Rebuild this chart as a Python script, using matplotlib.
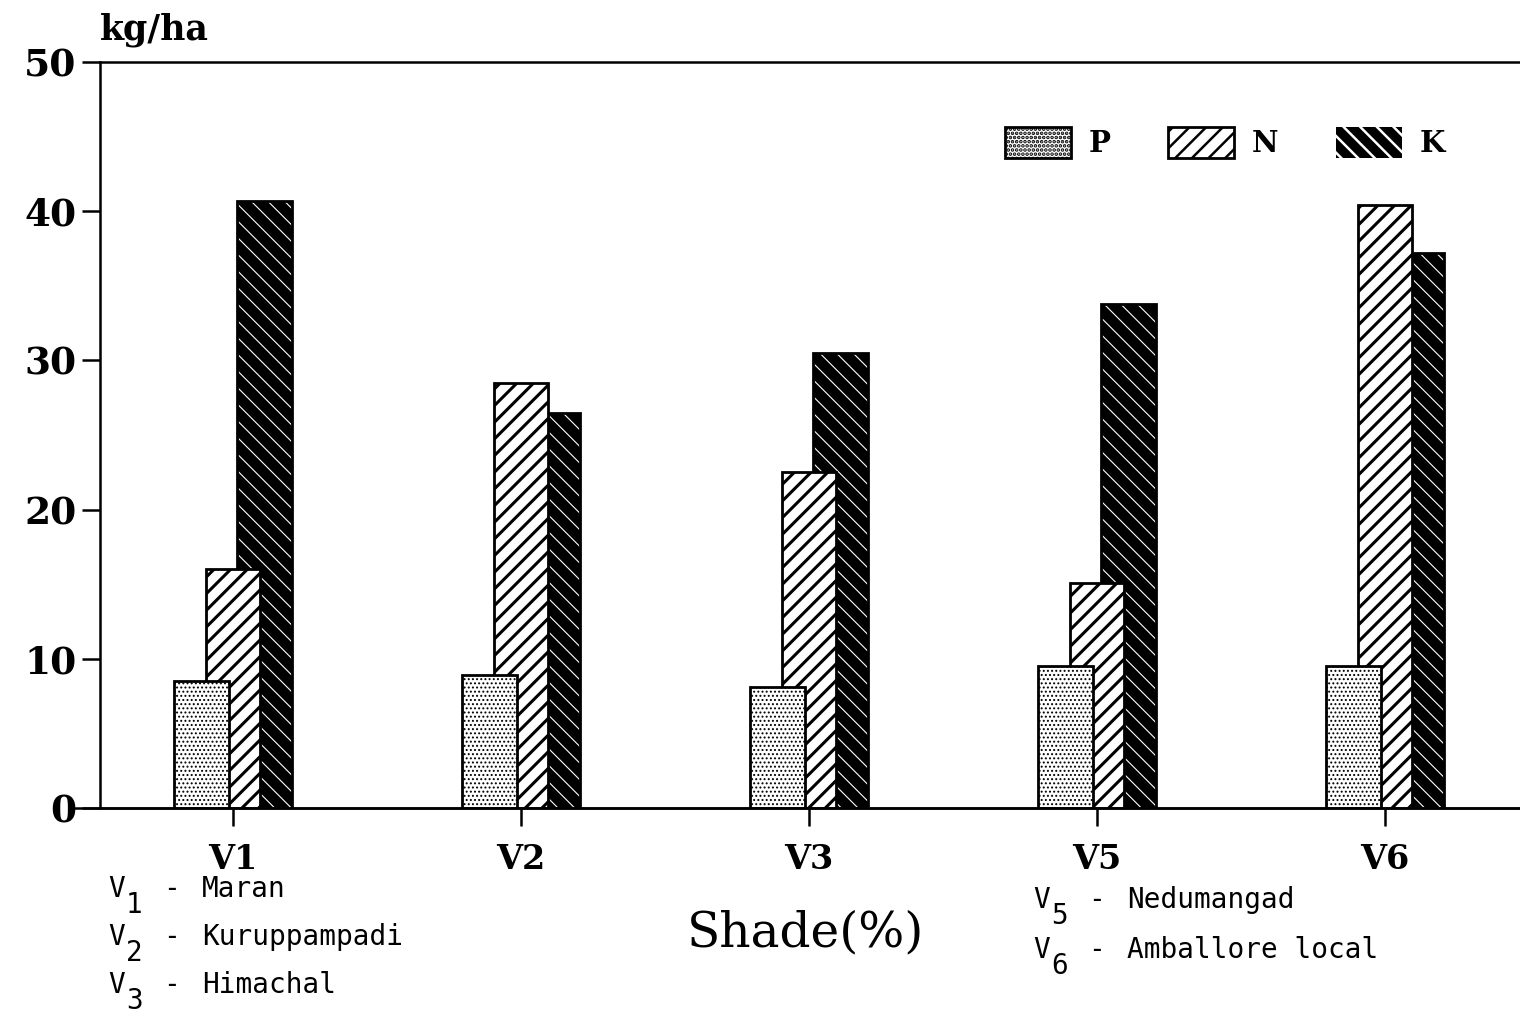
import matplotlib.pyplot as plt
import numpy as np
from matplotlib.patches import Patch

# values (kg/ha)
varieties = ['V1', 'V2', 'V3', 'V5', 'V6']
p_vals = [8.5, 8.9, 8.1, 9.5, 9.5]
n_vals = [16.0, 28.5, 22.5, 15.1, 40.4]
k_vals = [40.7, 26.5, 30.5, 33.8, 37.2]

left_notes = [('1', 'Maran'), ('2', 'Kuruppampadi'), ('3', 'Himachal')]
right_notes = [('5', 'Nedumangad'), ('6', 'Amballore local')]

W, H = 1520, 1016

fig = plt.figure(figsize=(W / 100, H / 100), dpi=100)
ax = fig.add_axes([100 / W, 1 - 808 / H, 1 - 100 / W, (808 - 62) / H])

x = np.arange(len(varieties))
bw = 0.19
off = 0.11

# K drawn first (behind), then N, then P in front
with plt.rc_context({'hatch.linewidth': 0.8}):
    ax.bar(x + off, k_vals, bw, color='black', edgecolor='white', hatch='\\\\', linewidth=0, zorder=2)
    k_handle = Patch(facecolor='black', edgecolor='white', hatch='\\\\', linewidth=0)
ax.bar(x + off, k_vals, bw, facecolor='none', edgecolor='black', linewidth=2, zorder=2)
with plt.rc_context({'hatch.linewidth': 2.2}):
    ax.bar(x, n_vals, bw, color='white', edgecolor='black', hatch='//', linewidth=2, zorder=3)
    n_handle = Patch(facecolor='white', edgecolor='black', hatch='//', linewidth=2)
with plt.rc_context({'hatch.linewidth': 0.9}):
    ax.bar(x - off, p_vals, bw, color='white', edgecolor='black', hatch='....', linewidth=2, zorder=4)
    p_handle = Patch(facecolor='white', edgecolor='black', hatch='....', linewidth=2)

ax.set_xlim(-0.4618, 4.469)
ax.set_ylim(0, 50)
ax.set_yticks([0, 10, 20, 30, 40, 50])
ax.set_xticks(x)
ax.set_xticklabels(varieties)

ax.spines['right'].set_visible(False)
for s in ['left', 'top', 'bottom']:
    ax.spines[s].set_linewidth(1.8)
# bottom line runs a little past the y axis
ax.plot([-0.556, 4.469], [0, 0], color='black', linewidth=1.8, clip_on=False, zorder=5)

ax.tick_params(axis='both', direction='out', length=13, width=1.8)
ax.tick_params(axis='y', pad=4)
ax.tick_params(axis='x', pad=12)
for lab in ax.get_xticklabels():
    lab.set_fontfamily('DejaVu Serif')
    lab.set_fontweight('bold')
    lab.set_fontsize(24)
for lab in ax.get_yticklabels():
    lab.set_fontfamily('DejaVu Serif')
    lab.set_fontweight('bold')
    lab.set_fontsize(27)

fig.text(100 / W, 1 - 30 / H, 'kg/ha', family='DejaVu Serif', weight='bold', fontsize=25,
         ha='left', va='center')
fig.text(806 / W, 1 - 933 / H, 'Shade(%)', family='DejaVu Serif', fontsize=35,
         ha='center', va='center')

# legend
with plt.rc_context({'hatch.linewidth': 1.8}):
    leg = fig.legend([p_handle, n_handle, k_handle], ['P', 'N', 'K'], ncol=3, frameon=False,
                     loc='upper left', bbox_to_anchor=(1005 / W, 1 - 127 / H), borderpad=0,
                     borderaxespad=0, handlelength=2.25, handleheight=1.25, handletextpad=0.6,
                     columnspacing=2.0, prop={'family': 'DejaVu Serif', 'weight': 'bold', 'size': 21})


def note(x0, y0, sub, name):
    fs = 20
    fig.text(x0 / W, 1 - y0 / H, 'V', family='DejaVu Sans Mono', fontsize=fs, va='center')
    fig.text((x0 + 18) / W, 1 - (y0 + 16) / H, sub, family='DejaVu Sans Mono', fontsize=fs, va='center')
    fig.text((x0 + 55) / W, 1 - y0 / H, '-', family='DejaVu Sans Mono', fontsize=fs, va='center')
    fig.text((x0 + 94) / W, 1 - y0 / H, name, family='DejaVu Sans Mono', fontsize=fs, va='center')


for i, (sub, name) in enumerate(left_notes):
    note(108, 889 + i * 48, sub, name)
for i, (sub, name) in enumerate(right_notes):
    note(1033, 900 + i * 50, sub, name)

fig.savefig('out.png', dpi=100)
